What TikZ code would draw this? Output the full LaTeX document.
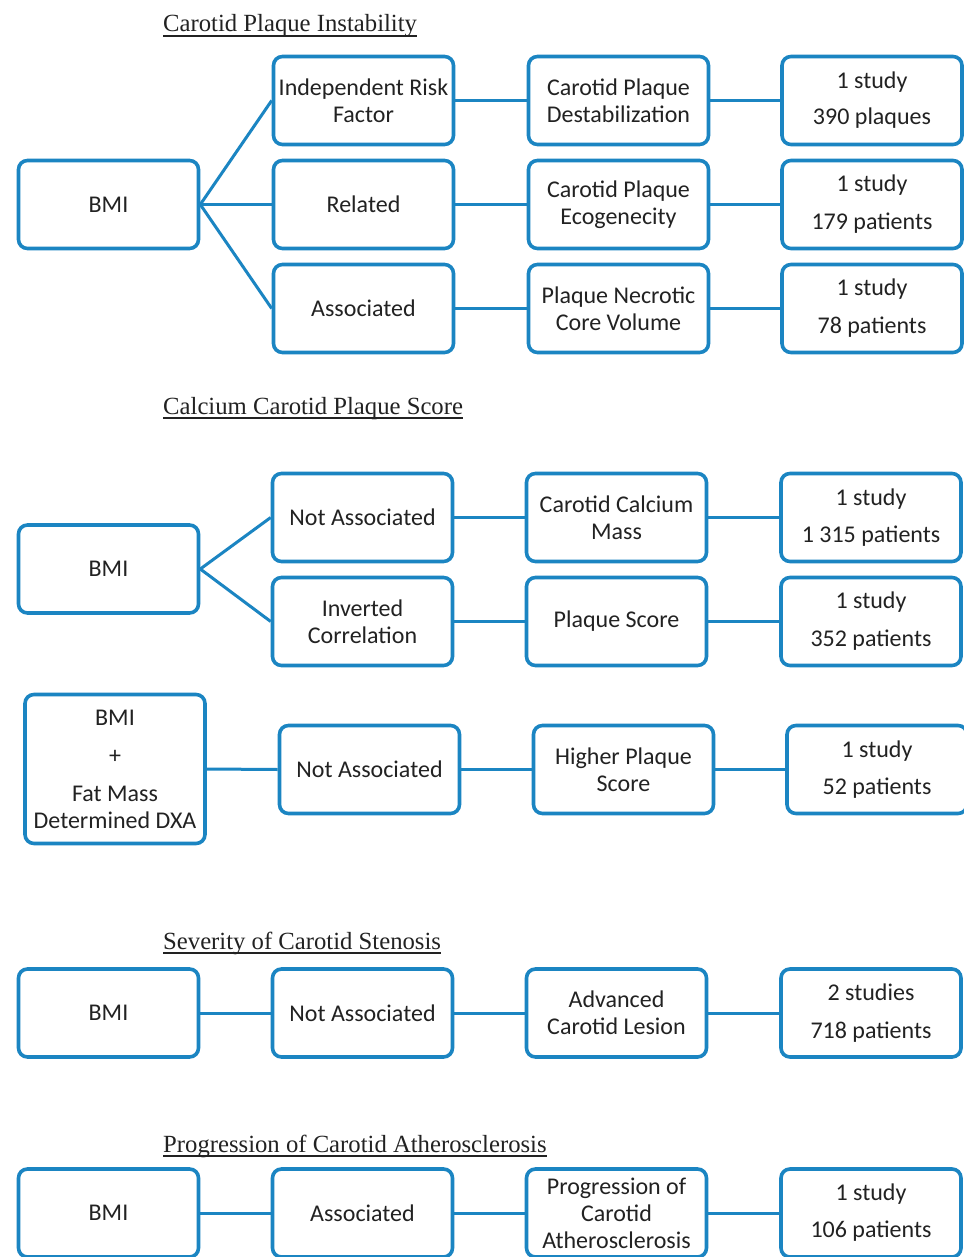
\documentclass[tikz,border=0pt]{standalone}
\usepackage{fontspec}
\setmainfont{Carlito}
\newfontfamily\titlefont{Liberation Serif}
\definecolor{bl}{RGB}{27,133,194}
\definecolor{tx}{RGB}{34,34,34}
\begin{document}
\begin{tikzpicture}[x=1pt,y=-1pt,
 box/.style={draw=bl, line width=3.6pt, rounded corners=9pt, minimum width=180pt, minimum height=88pt, align=center, inner sep=0pt, text=tx, font=\fontsize{24}{27}\selectfont},
 link/.style={draw=bl, line width=3pt},
 ttl/.style={anchor=base west, inner sep=0pt, text=tx, font=\titlefont\fontsize{24.7}{28}\selectfont},
 uline/.style={draw=tx, line width=1.4pt}]
\useasboundingbox[fill=white] (0,0) rectangle (963,1257);

% ---------- Section 1
\node[ttl] (t1) at (163,32) {Carotid Plaque Instability};
\draw[uline] ([yshift=-4pt]t1.base west) -- ([yshift=-4pt]t1.base east);
\node[box] (a0) at (108.5,204.5) {BMI};
\node[box] (a1) at (363.5,100.5) {Independent Risk\\Factor};
\node[box] (a2) at (363.5,204.5) {Related};
\node[box] (a3) at (363.5,308.5) {Associated};
\node[box] (b1) at (618.5,100.5) {Carotid Plaque\\Destabilization};
\node[box] (b2) at (618.5,204.5) {Carotid Plaque\\Ecogenecity};
\node[box] (b3) at (618.5,308.5) {Plaque Necrotic\\Core Volume};
\node[box] (c1) at (872,100.5) {1 study\\[9pt]390 plaques};
\node[box] (c2) at (872,204.5) {1 study\\[11pt]179 patients};
\node[box] (c3) at (872,308.5) {1 study\\[11pt]78 patients};
\draw[link] (a0.east) -- (a1.west);
\draw[link] (a0.east) -- (a2.west);
\draw[link] (a0.east) -- (a3.west);
\foreach \i in {1,2,3}{
  \draw[link] (a\i.east) -- (b\i.west);
  \draw[link] (b\i.east) -- (c\i.west);
}

% ---------- Section 2
\node[ttl] (t2) at (163,414) {Calcium Carotid Plaque Score};
\draw[uline] ([yshift=-4pt]t2.base west) -- ([yshift=-4pt]t2.base east);
\node[box] (d0) at (108.5,569) {BMI};
\node[box] (d1) at (362.5,517.5) {Not Associated};
\node[box] (d2) at (362.5,621.5) {Inverted\\Correlation};
\node[box] (e1) at (616.5,517.5) {Carotid Calcium\\Mass};
\node[box] (e2) at (616.5,621.5) {Plaque Score};
\node[box] (f1) at (871,517.5) {1 study\\[10pt]1 315 patients};
\node[box] (f2) at (871,621.5) {1 study\\[11pt]352 patients};
\draw[link] (d0.east) -- (d1.west);
\draw[link] (d0.east) -- (d2.west);
\foreach \i in {1,2}{
  \draw[link] (d\i.east) -- (e\i.west);
  \draw[link] (e\i.east) -- (f\i.west);
}
\node[box, minimum height=149pt] (g0) at (115,769) {BMI\\[11pt]+\\[11pt]Fat Mass\\Determined DXA};
\node[box] (g1) at (369.5,769.5) {Not Associated};
\node[box] (g2) at (623.5,769.5) {Higher Plaque\\Score};
\node[box] (g3) at (877,769.5) {1 study\\[10pt]52 patients};
\draw[link] (g0.east) -- (g1.west);
\draw[link] (g1.east) -- (g2.west);
\draw[link] (g2.east) -- (g3.west);

% ---------- Section 3
\node[ttl] (t3) at (163,949) {Severity of Carotid Stenosis};
\draw[uline] ([yshift=-4pt]t3.base west) -- ([yshift=-4pt]t3.base east);
\node[box] (h0) at (108.5,1013) {BMI};
\node[box] (h1) at (362.5,1013) {Not Associated};
\node[box] (h2) at (616.5,1013) {Advanced\\Carotid Lesion};
\node[box] (h3) at (871,1013) {2 studies\\[11pt]718 patients};
\draw[link] (h0.east) -- (h1.west);
\draw[link] (h1.east) -- (h2.west);
\draw[link] (h2.east) -- (h3.west);

% ---------- Section 4
\node[ttl] (t4) at (163,1152) {Progression of Carotid Atherosclerosis};
\draw[uline] ([yshift=-4pt]t4.base west) -- ([yshift=-4pt]t4.base east);
\node[box] (k0) at (108.5,1213) {BMI};
\node[box] (k1) at (362.5,1213) {Associated};
\node[box] (k2) at (616.5,1213) {Progression of\\Carotid\\Atherosclerosis};
\node[box] (k3) at (871,1213) {1 study\\[10pt]106 patients};
\draw[link] (k0.east) -- (k1.west);
\draw[link] (k1.east) -- (k2.west);
\draw[link] (k2.east) -- (k3.west);
\end{tikzpicture}
\end{document}
